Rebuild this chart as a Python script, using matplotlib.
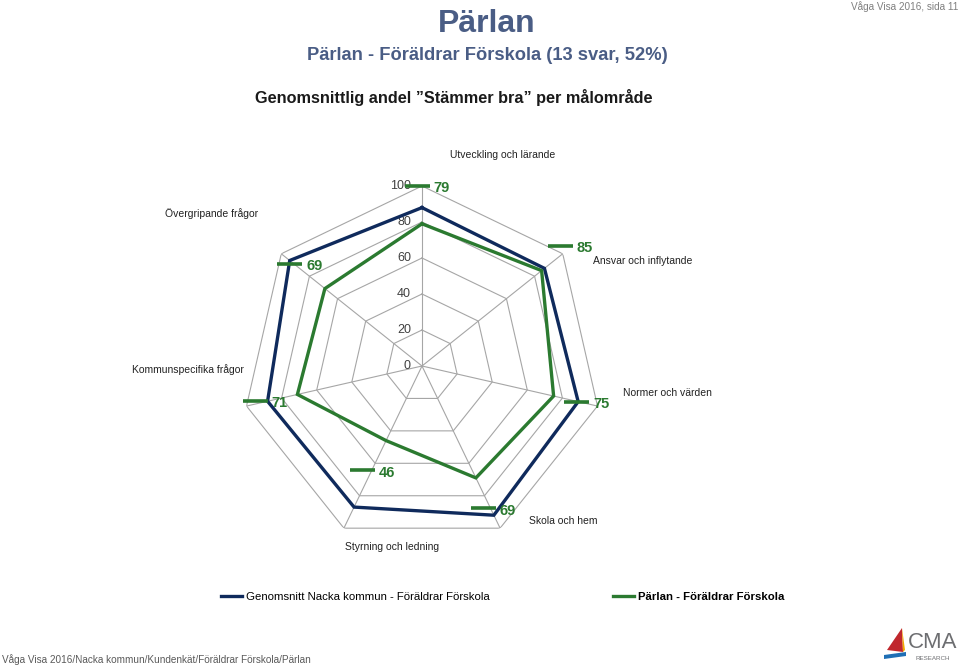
import numpy as np
import matplotlib
matplotlib.use("Agg")
import matplotlib.pyplot as plt
from matplotlib.lines import Line2D
from matplotlib.patches import Polygon

categories = ["Utveckling och lärande", "Ansvar och inflytande", "Normer och värden",
              "Skola och hem", "Styrning och ledning", "Kommunspecifika frågor",
              "Övergripande frågor"]
nacka = [88, 87, 89, 92, 87, 88, 94]
parlan = [79, 85, 75, 69, 46, 71, 69]
ring_ticks = [0, 20, 40, 60, 80, 100]
series_names = ["Genomsnitt Nacka kommun - Föräldrar Förskola", "Pärlan - Föräldrar Förskola"]

# label placement (style): angle offset in degrees from axis, radius
label_dtheta = [-1.6, -2.4, 0.1, 2.7, 4.3, 1.0, -0.9]
label_r = [100, 101.6, 88, 86, 67, 95, 93]
# category label positions in figure pixels (style)
cat_px = [(503, 155), (643, 261), (667, 393), (563, 521), (392, 547), (188, 370), (212, 214)]

NAVY = "#0f2a5c"
GREEN = "#2b7a30"
TITLE = "#4a5d85"
SANS = ["Liberation Sans", "DejaVu Sans"]

W, H = 960, 668
fig = plt.figure(figsize=(W / 100, H / 100), dpi=100)
cx, cy, R = 422, 366, 180
ax = fig.add_axes([(cx - R) / W, 1 - (cy + R) / H, 2 * R / W, 2 * R / H], projection="polar")
ax.set_theta_zero_location("N")
ax.set_theta_direction(-1)
ax.set_ylim(0, 100)
ax.grid(False)
ax.set_xticks([])
ax.set_yticks([])
ax.spines["polar"].set_visible(False)
ax.patch.set_visible(False)

n = len(categories)
theta = np.linspace(0, 2 * np.pi, n, endpoint=False)
tc = np.append(theta, theta[0])

for r in ring_ticks[1:]:
    ax.plot(tc, [r] * (n + 1), color="#a6a6a6", lw=0.8, zorder=1)
for t in theta:
    ax.plot([t, t], [0, 100], color="#a6a6a6", lw=0.8, zorder=1)

ax.plot(tc, nacka + [nacka[0]], color=NAVY, lw=2.4, zorder=3, solid_joinstyle="miter")
ax.plot(tc, parlan + [parlan[0]], color=GREEN, lw=2.4, zorder=4, solid_joinstyle="miter")

for r in ring_ticks:
    ax.annotate(str(r), xy=(0, r), xytext=(-8, 0), textcoords="offset points",
                ha="right", va="center", fontsize=9, color="#404040", family=SANS, zorder=2)

for i, v in enumerate(parlan):
    th = theta[i] + np.deg2rad(label_dtheta[i])
    ax.plot([th], [label_r[i]], marker="_", markersize=18, mew=2.6, color=GREEN,
            zorder=5, clip_on=False)
    ax.annotate(str(v), xy=(th, label_r[i]), xytext=(12, -1.5), textcoords="offset points",
                ha="left", va="center", fontsize=10.5, color=GREEN, family=SANS,
                fontweight="bold", annotation_clip=False, zorder=6)

for name, (px_, py_) in zip(categories, cat_px):
    fig.text(px_ / W, 1 - py_ / H, name, ha="center", va="center", fontsize=7.5,
             color="#222222", family=SANS)

fig.text(487 / W, 1 - 24 / H, "Pärlan", ha="center", va="center", fontsize=23,
         color=TITLE, fontweight="bold", family=SANS)
fig.text(487 / W, 1 - 55 / H, "Pärlan - Föräldrar Förskola (13 svar, 52%)", ha="center",
         va="center", fontsize=13.2, color=TITLE, fontweight="bold", family=SANS)
fig.text(454 / W, 1 - 97 / H, "Genomsnittlig andel \u201dStämmer bra\u201d per målområde",
         ha="center", va="center", fontsize=11.7, color="#1a1a1a", fontweight="bold", family=SANS)
fig.text(958 / W, 1 - 7 / H, "Våga Visa 2016, sida 11", ha="right", va="center",
         fontsize=7.2, color="#7f7f7f", family=SANS)
fig.text(2 / W, 1 - 660 / H, "Våga Visa 2016/Nacka kommun/Kundenkät/Föräldrar Förskola/Pärlan",
         ha="left", va="center", fontsize=7.2, color="#595959", family=SANS)

# logo approximation
fig.text(933 / W, 1 - 643 / H, "CMA", ha="center", va="center", fontsize=16,
         color="#6d6e71", family=SANS)
fig.text(933 / W, 1 - 658 / H, "RESEARCH", ha="center", va="center", fontsize=4.5,
         color="#6d6e71", family=SANS)
def px(x, y):
    return (x / W, 1 - y / H)
fig.patches.append(Polygon([px(902, 628), px(887, 650), px(903, 652)], closed=True,
                           transform=fig.transFigure, facecolor="#c0272d", edgecolor="none"))
fig.patches.append(Polygon([px(902, 628), px(905, 650), px(903, 652)], closed=True,
                           transform=fig.transFigure, facecolor="#f2a900", edgecolor="none"))
fig.patches.append(Polygon([px(884, 655), px(906, 652), px(906, 656), px(884, 659)], closed=True,
                           transform=fig.transFigure, facecolor="#1f6fb5", edgecolor="none"))

handles = [Line2D([], [], color=NAVY, lw=2.4), Line2D([], [], color=GREEN, lw=2.4)]
fig.legend([handles[0]], [series_names[0]], loc="center left",
           bbox_to_anchor=(216 / W, 1 - 597 / H), frameon=False,
           handlelength=1.9, handletextpad=0.35, borderaxespad=0,
           prop={"family": SANS, "size": 8.2})
fig.legend([handles[1]], [series_names[1]], loc="center left",
           bbox_to_anchor=(608 / W, 1 - 597 / H), frameon=False,
           handlelength=1.9, handletextpad=0.35, borderaxespad=0,
           prop={"family": SANS, "size": 8.2, "weight": "bold"})

fig.savefig("out.png", dpi=100)
